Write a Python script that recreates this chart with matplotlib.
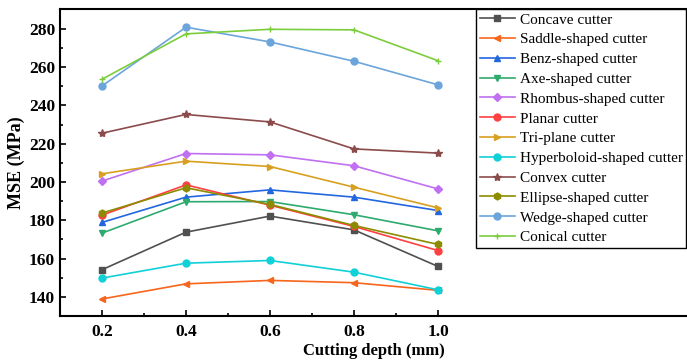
import numpy as np
import matplotlib.pyplot as plt

depth = [0.2, 0.4, 0.6, 0.8, 1.0]

names = ["Concave cutter", "Saddle-shaped cutter", "Benz-shaped cutter",
         "Axe-shaped cutter", "Rhombus-shaped cutter", "Planar cutter",
         "Tri-plane cutter", "Hyperboloid-shaped cutter", "Convex cutter",
         "Ellipse-shaped cutter", "Wedge-shaped cutter", "Conical cutter"]

concave = [154.2, 173.8, 182.2, 175.0, 155.9]
saddle = [138.9, 146.8, 148.6, 147.4, 143.4]
benz = [178.9, 192.1, 195.9, 192.1, 185.1]
axe = [173.3, 189.7, 189.8, 182.9, 174.5]
rhombus = [200.5, 214.9, 214.2, 208.5, 196.4]
planar = [182.7, 198.5, 187.9, 176.8, 164.2]
triplane = [204.3, 210.9, 208.1, 197.3, 186.5]
hyperboloid = [149.8, 157.6, 159.0, 152.9, 143.7]
convex = [225.5, 235.3, 231.4, 217.3, 215.1]
ellipse = [183.8, 197.0, 188.3, 177.3, 167.4]
wedge = [250.2, 280.9, 273.2, 263.1, 250.8]
conical = [253.7, 277.4, 279.8, 279.5, 263.4]

series = [concave, saddle, benz, axe, rhombus, planar,
          triplane, hyperboloid, convex, ellipse, wedge, conical]

colors = ["#505050", "#F8651D", "#2266E0", "#2FAA6E", "#C070F0", "#FF4040",
          "#D8A020", "#10D0D8", "#8B4B4B", "#8C8C00", "#6BA5DC", "#7CCD3C"]
markers = ["s", "<", "^", "v", "D", "o", ">", "o", "*", "h", "o", "+"]

plt.rcParams["font.family"] = "Liberation Serif"

fig = plt.figure(figsize=(6.87, 3.63), dpi=100)
ax = fig.add_axes([60 / 687, 47 / 363, 1 - 60 / 687, 307 / 363])

for vals, name, c, m in zip(series, names, colors, markers):
    ms = 5
    if m == "D":
        ms = 4.5
    if m == "*":
        ms = 6
    ax.plot(depth, vals, color=c, marker=m, markersize=ms, linewidth=1.2, label=name)

ax.set_xlim(0.1, 1.593)
ax.set_ylim(130, 290.4)
ax.set_xticks(depth)
ax.set_xticks([0.3, 0.5, 0.7, 0.9], minor=True)
ax.set_xticklabels(["0.2", "0.4", "0.6", "0.8", "1.0"])
ax.set_yticks(np.arange(140, 281, 20))
ax.set_yticks(np.arange(150, 281, 20), minor=True)
ax.tick_params(axis="both", which="both", direction="in", labelsize=12.5, width=1.2)
ax.tick_params(which="major", length=4)
ax.tick_params(which="minor", length=2.5)
ax.tick_params(axis="x", pad=6)
ax.tick_params(right=False)
for lab in ax.get_xticklabels() + ax.get_yticklabels():
    lab.set_fontweight("bold")
for s in ["left", "bottom", "top"]:
    ax.spines[s].set_linewidth(1.5)
ax.spines["right"].set_visible(False)

ax.set_xlabel("Cutting depth (mm)", fontsize=12, fontweight="bold", labelpad=2)
ax.set_ylabel("MSE (MPa)", fontsize=13, fontweight="bold", labelpad=3)

leg = ax.legend(loc="upper left", bbox_to_anchor=(476 / 687, 1 - 9 / 363),
                bbox_transform=fig.transFigure, borderaxespad=0, fontsize=11,
                labelspacing=0.40, handlelength=2.3, handletextpad=0.3,
                borderpad=0.25, fancybox=False, framealpha=1, edgecolor="black")
leg.get_frame().set_linewidth(1.0)

fig.savefig("out.png", dpi=100)
